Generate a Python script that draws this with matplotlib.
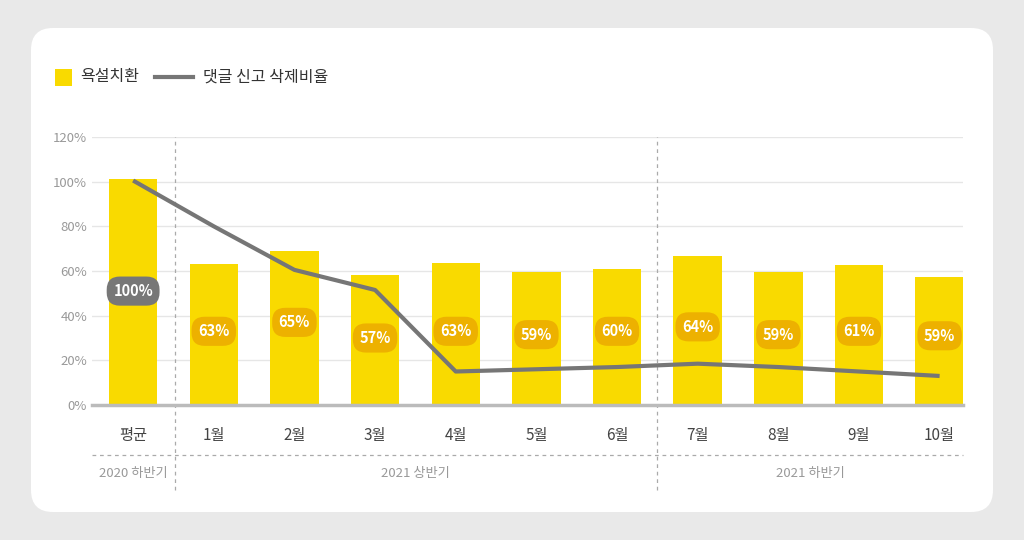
import matplotlib.pyplot as plt
from matplotlib.patches import FancyBboxPatch, Rectangle
from matplotlib.lines import Line2D

plt.rcParams["font.family"] = ["Noto Sans CJK JP", "Noto Sans CJK KR", "Noto Sans CJK SC",
                               "DejaVu Sans"]

months = ["평균", "1월", "2월", "3월", "4월", "5월", "6월", "7월", "8월", "9월", "10월"]
bar_vals = [101, 63, 69, 58, 63.5, 59.5, 61, 66.5, 59.5, 62.5, 57.3]
bar_labels = ["100%", "63%", "65%", "57%", "63%", "59%", "60%", "64%", "59%", "61%", "59%"]
line_vals = [100.5, 80, 60.5, 51.5, 15, 16, 17, 18.5, 17, 15, 13]
label_y = [51, 33, 37, 30, 33, 31.5, 33, 35, 31.5, 33, 31]
groups = ["2020 하반기", "2021 상반기", "2021 하반기"]
yticks = [0, 20, 40, 60, 80, 100, 120]

W, H = 1024, 540
fig = plt.figure(figsize=(W / 100, H / 100), dpi=100)
fig.patch.set_facecolor("#e9e9e9")

bg = fig.add_axes([0, 0, 1, 1], zorder=-1)
bg.axis("off")
bg.set_xlim(0, W)
bg.set_ylim(H, 0)
bg.add_patch(FancyBboxPatch((31, 28), 962, 484, boxstyle="round,pad=0,rounding_size=22",
                            fc="white", ec="none"))
# legend
bg.add_patch(Rectangle((55, 69), 17, 17, fc="#F9DA00", ec="none"))
bg.text(80, 77, "욕설치환", va="center", fontsize=11.5, color="#333333")
bg.plot([155, 193], [77, 77], color="#767676", lw=3)
bg.text(203, 77, "댓글 신고 삭제비율", va="center", fontsize=11.5, color="#333333")

ax = fig.add_axes([92 / W, (H - 405) / H, 871 / W, 268 / H])
ax.set_facecolor("none")
x = list(range(len(months)))
ax.bar(x, bar_vals, width=0.6, color="#F9DA00", zorder=2)
ax.plot(x, line_vals, color="#767676", lw=3, zorder=3, solid_capstyle="butt")
for i, (lab, ly) in enumerate(zip(bar_labels, label_y)):
    fc = "#777777" if i == 0 else "#EDB100"
    ax.text(i, ly, lab, ha="center", va="center", color="white", fontsize=10.5,
            fontweight="bold", zorder=4,
            bbox=dict(boxstyle="round,pad=0.45,rounding_size=0.9", fc=fc, ec="none"))

ax.set_xlim(-0.51, 10.29)
ax.set_ylim(0, 120)
ax.set_yticks(yticks)
ax.set_yticklabels([f"{v}%" for v in yticks], color="#999999", fontsize=9.5)
ax.grid(axis="y", color="#e6e6e6", lw=1, zorder=0)
for s in ["top", "right", "left"]:
    ax.spines[s].set_visible(False)
ax.spines["bottom"].set_color("#bbbbbb")
ax.spines["bottom"].set_linewidth(2.5)
ax.spines["bottom"].set_zorder(5)
ax.tick_params(length=0)
ax.set_xticks(x)
ax.set_xticklabels(months, color="#444444", fontsize=11)
ax.tick_params(axis="x", pad=16)

# separators and group labels
for sx in [0.52, 6.5]:
    ax.add_line(Line2D([sx, sx], [-38, 120], color="#aaaaaa", lw=0.9, ls=(0, (3, 3)),
                       clip_on=False))
ax.add_line(Line2D([-0.51, 10.29], [-22.5, -22.5], color="#aaaaaa", lw=0.9,
                   ls=(0, (3, 3)), clip_on=False))
for gx, g in zip([0, 3.5, 8.4], groups):
    ax.text(gx, -30.5, g, ha="center", va="center", color="#999999", fontsize=9.5)

fig.savefig("out.png", dpi=100, facecolor=fig.get_facecolor())
